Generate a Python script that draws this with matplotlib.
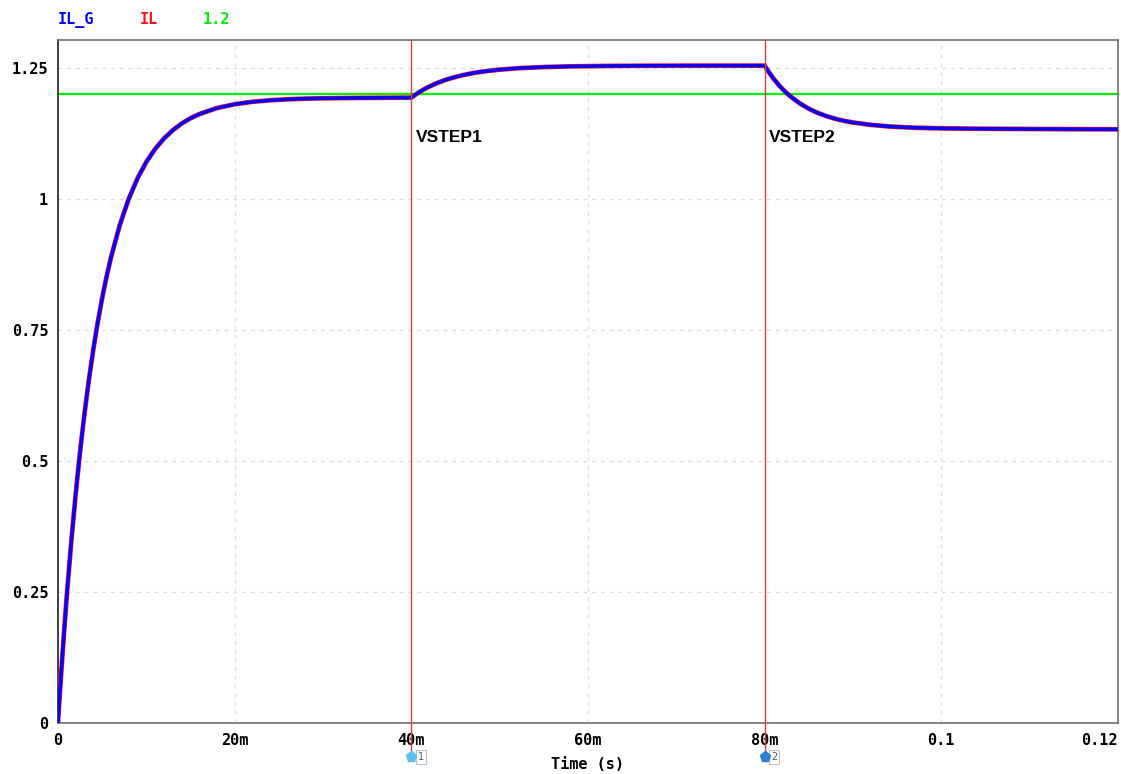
import numpy as np
import matplotlib.pyplot as plt
from matplotlib.transforms import blended_transform_factory

# inductor current (time in ms, current in A)
t_ms = [0, 0.25, 0.5, 0.75, 1, 1.5, 2, 2.5, 3, 3.5, 4, 4.5, 5, 5.5, 6, 7, 8, 9,
        10, 11, 12, 13, 14, 15, 16, 18, 20, 22, 24, 26, 28, 30, 34, 40,
        40.5, 41, 41.5, 42, 43, 44, 45, 46, 47, 48, 50, 52, 55, 58, 62, 66, 72, 80,
        80.5, 81, 81.5, 82, 82.5, 83, 84, 85, 86, 87, 88, 89, 90, 92, 94, 97,
        100, 105, 110, 115, 120]
il = [0.0, 0.0659, 0.1282, 0.187, 0.2428, 0.3448, 0.4359, 0.5173, 0.5899,
      0.6548, 0.7126, 0.7643, 0.8104, 0.8516, 0.8883, 0.9504, 0.9998, 1.0392,
      1.0706, 1.0955, 1.1154, 1.1313, 1.144, 1.154, 1.162, 1.1736, 1.1808,
      1.1855, 1.1884, 1.1903, 1.1915, 1.1922, 1.1929, 1.1935,
      1.1995, 1.205, 1.2099, 1.2143, 1.2219, 1.228, 1.233, 1.237, 1.2403,
      1.243, 1.2469, 1.2495, 1.2518, 1.2531, 1.2539, 1.2543, 1.2545, 1.2545,
      1.2415, 1.2299, 1.2195, 1.2103, 1.2021, 1.1947, 1.1823, 1.1723, 1.1644,
      1.1581, 1.1531, 1.1491, 1.146, 1.1415, 1.1385, 1.136, 1.1348, 1.134,
      1.1336, 1.1333, 1.133]
il_g = il  # IL_G lies on top of IL
ref_level = 1.2

cursor_t = [0.040, 0.080]
cursor_names = ["VSTEP1", "VSTEP2"]
cursor_ids = ["1", "2"]
cursor_cols = ["#5bc0f0", "#2a7fd0"]

xticks = [0, 0.02, 0.04, 0.06, 0.08, 0.1, 0.12]
xtick_labels = ["0", "20m", "40m", "60m", "80m", "0.1", "0.12"]
yticks = [0, 0.25, 0.5, 0.75, 1.0, 1.25]
ytick_labels = ["0", "0.25", "0.5", "0.75", "1", "1.25"]

t = np.array(t_ms) / 1000.0

fig = plt.figure(figsize=(11.21, 7.74), dpi=100)
ax = fig.add_axes([0.0517, 0.0659, 0.9456, 0.8824])

mono = dict(family="DejaVu Sans Mono", weight="bold", size=11)

ax.axhline(ref_level, color="#00ee00", lw=1.6, zorder=2)
ax.plot(t, il, color="#ff1010", lw=3.4, zorder=3)
ax.plot(t, il_g, color="#0000ff", lw=2.5, zorder=4)

ax.set_xlim(0, 0.1198)
ax.set_ylim(0, 1.3034)
ax.set_xticks(xticks)
ax.set_xticklabels(xtick_labels, **mono)
ax.set_yticks(yticks)
ax.set_yticklabels(ytick_labels, **mono)
ax.tick_params(length=0, pad=7)
ax.tick_params(axis="x", pad=7)
ax.get_xticklabels()[-1].set_horizontalalignment("right")
ax.set_xlabel("Time (s)", labelpad=7, **mono)

ax.grid(True, color="#dcdcdc", ls=(0, (3, 4)), lw=0.9)
ax.set_axisbelow(True)
for sp in ax.spines.values():
    sp.set_color("#707070")
    sp.set_linewidth(1.2)
ax.spines["left"].set_color("#202020")

# cursors
trans = blended_transform_factory(ax.transData, ax.transAxes)
for x, name, cid, col in zip(cursor_t, cursor_names, cursor_ids, cursor_cols):
    ax.plot([x, x], [-0.042, 1.0], color="#d84040", lw=1.0, transform=trans,
            clip_on=False, zorder=5)
    ax.text(x + 0.0005, 1.118, name, family="Liberation Sans", weight="bold",
            size=12.5, va="center", ha="left", zorder=6)
    ax.plot([x], [-0.05], marker="p", ms=8, color=col, transform=trans,
            clip_on=False, zorder=6)
    ax.text(x + 0.0007, -0.05, cid, transform=trans, size=7, color="#555555",
            va="center", ha="left",
            bbox=dict(boxstyle="square,pad=0.2", fc="white", ec="#c0c0c0", lw=0.8))

# trace legend above the plot
fig.text(58 / 1121, 1 - 20 / 774, "IL_G", color="#0000ff", va="center", **mono)
fig.text(140 / 1121, 1 - 20 / 774, "IL", color="#ff1010", va="center", **mono)
fig.text(203 / 1121, 1 - 20 / 774, "1.2", color="#00ee00", va="center", **mono)

fig.savefig("out.png", dpi=100, facecolor="white")
